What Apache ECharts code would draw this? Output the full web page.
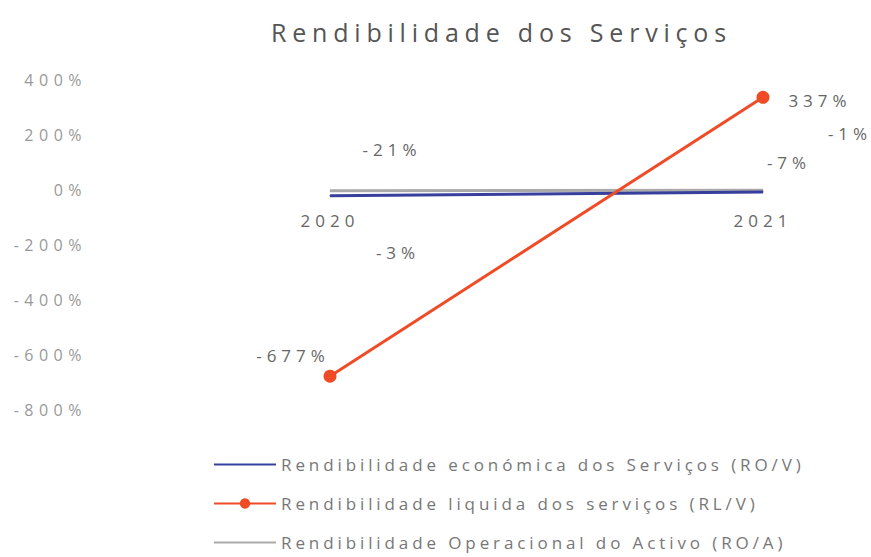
<!DOCTYPE html>
<html><head><meta charset="utf-8">
<script src="https://cdn.jsdelivr.net/npm/echarts@6/dist/echarts.min.js"></script>
<style>
html,body{margin:0;padding:0;background:#fff}
#c{width:871px;height:557px}
</style></head><body>
<div id="c"></div>
<script>
const categories = ['2020', '2021'];
const roV = [-21, -7];      // Rendibilidade económica dos Serviços (RO/V)
const rlV = [-677, 337];    // Rendibilidade liquida dos serviços (RL/V)
const roA = [-3, -1];       // Rendibilidade Operacional do Activo (RO/A)
const yTicks = [-800, -600, -400, -200, 0, 200, 400];
const seriesNames = [
  'Rendibilidade económica dos Serviços (RO/V)',
  'Rendibilidade liquida dos serviços (RL/V)',
  'Rendibilidade Operacional do Activo (RO/A)'
];
const titleText = 'Rendibilidade dos Serviços';

const roVOffsets = [[62, -46], [26, -29]];
const rlVOffsets = [[-37, -21], [57, 3]];
const roAOffsets = [[68, 62], [87, -57]];

function mk(vals, offs) {
  return vals.map((v, i) => ({
    value: v,
    label: { show: true, position: 'inside', offset: offs[i] }
  }));
}
const lbl = { formatter: '{c}%', color: '#666', fontSize: 17, fontFamily: 'Open Sans' };

const chart = echarts.init(document.getElementById('c'), null, { renderer: 'svg' });
chart.setOption({
  animation: false,
  backgroundColor: '#fff',
  title: {
    text: titleText, left: 266, top: 14,
    textStyle: { fontFamily: 'Open Sans', fontWeight: 'normal', fontSize: 25, color: '#555' }
  },
  grid: { left: 330, right: 108, top: 80, bottom: 147 },
  xAxis: {
    type: 'category', data: categories, boundaryGap: false, position: 'bottom', offset: -220,
    axisLine: { show: false, onZero: false }, axisTick: { show: false },
    axisLabel: { margin: 22, color: '#666', fontSize: 17, fontFamily: 'Open Sans' },
    splitLine: { show: false }
  },
  yAxis: {
    type: 'value', min: yTicks[0], max: yTicks[yTicks.length - 1], interval: 200,
    axisLine: { show: false }, axisTick: { show: false }, splitLine: { show: false },
    axisLabel: { margin: 243, formatter: '{value}%', color: '#999', fontSize: 16, fontFamily: 'Open Sans' }
  },
  legend: {
    orient: 'vertical', left: 208, top: 451, itemWidth: 62, itemHeight: 13, itemGap: 22,
    textStyle: { fontFamily: 'Open Sans', fontSize: 17, color: '#777' },
    data: [
      { name: seriesNames[0], itemStyle: { opacity: 0 } },
      { name: seriesNames[1] },
      { name: seriesNames[2], itemStyle: { opacity: 0 } }
    ]
  },
  series: [
    {
      name: seriesNames[2], type: 'line', data: mk(roA, roAOffsets),
      symbol: 'circle', symbolSize: 1, z: 2,
      lineStyle: { color: '#AAAAAA', width: 3 }, itemStyle: { color: '#AAAAAA' }, label: lbl
    },
    {
      name: seriesNames[0], type: 'line', data: mk(roV, roVOffsets),
      symbol: 'circle', symbolSize: 1, z: 3,
      lineStyle: { color: '#36409C', width: 3 }, itemStyle: { color: '#36409C' }, label: lbl
    },
    {
      name: seriesNames[1], type: 'line', data: mk(rlV, rlVOffsets),
      symbol: 'circle', symbolSize: 13, z: 4,
      lineStyle: { color: '#EF4B26', width: 3 }, itemStyle: { color: '#EF4B26' }, label: lbl
    }
  ]
});

// widen lettering to match the reference's wide typeface
document.querySelectorAll('#c text').forEach(t => {
  const s = t.textContent;
  let sp = 5;
  if (s === titleText) sp = 5.8;
  else if (seriesNames.indexOf(s) >= 0) sp = 3.9;
  else if (/^-?\d+%$/.test(s) && t.getAttribute('text-anchor') === 'end') sp = 5.5;
  t.style.letterSpacing = sp + 'px';
});
</script>
</body></html>
